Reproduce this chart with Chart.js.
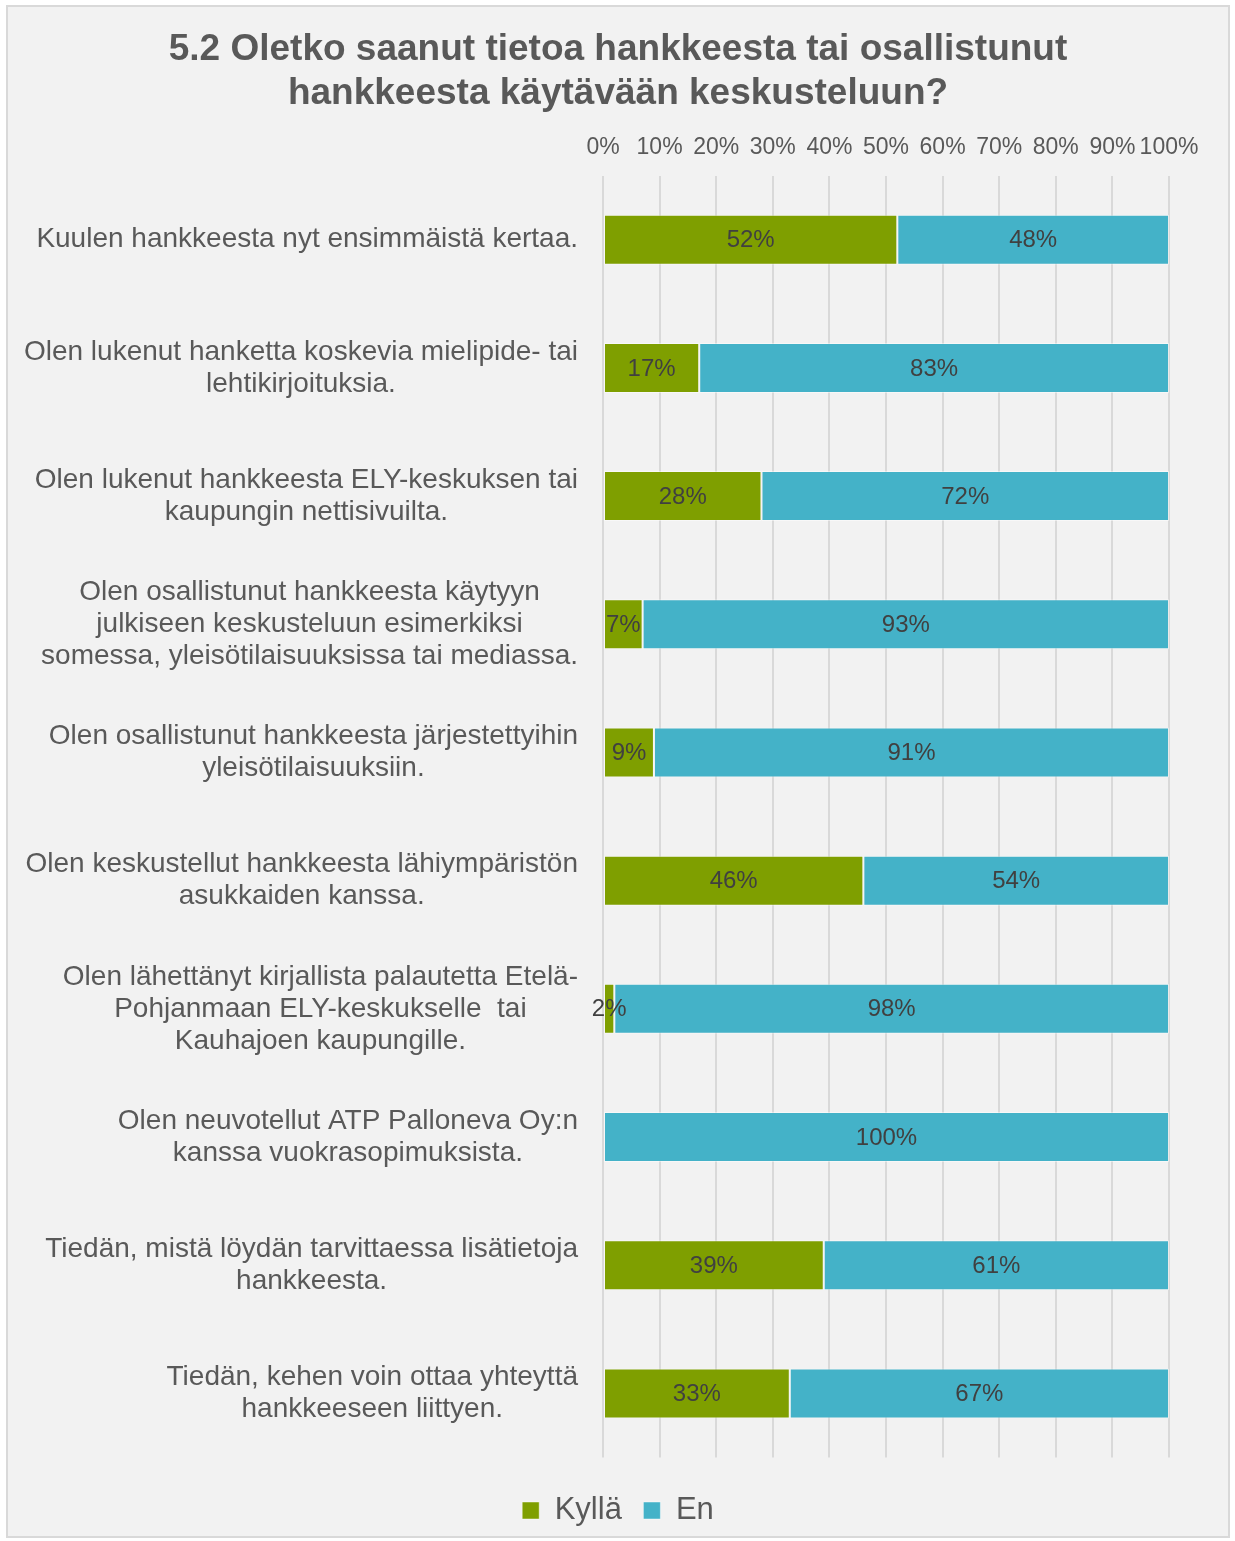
<!DOCTYPE html>
<html>
<head>
<meta charset="utf-8">
<script src="https://cdn.jsdelivr.net/npm/chart.js@4/dist/chart.umd.min.js"></script>
<style>
  body { margin: 0; background: #ffffff; }
  #frame {
    position: absolute; left: 6px; top: 5px;
    width: 1220px; height: 1529px;
    border: 2px solid #d9d9d9; background: #f2f2f2;
  }
</style>
</head>
<body>
<div id="frame"><canvas id="chart" width="1220" height="1529"></canvas></div>
<script>
// Categories (each line as shown in the picture)
const categories = [
    ['Kuulen hankkeesta nyt ensimmäistä kertaa.'],
    ['Olen lukenut hanketta koskevia mielipide- tai', 'lehtikirjoituksia.'],
    ['Olen lukenut hankkeesta ELY-keskuksen tai', 'kaupungin nettisivuilta.'],
    ['Olen osallistunut hankkeesta käytyyn', 'julkiseen keskusteluun esimerkiksi', 'somessa, yleisötilaisuuksissa tai mediassa.'],
    ['Olen osallistunut hankkeesta järjestettyihin', 'yleisötilaisuuksiin.'],
    ['Olen keskustellut hankkeesta lähiympäristön', 'asukkaiden kanssa.'],
    ['Olen lähettänyt kirjallista palautetta Etelä-', 'Pohjanmaan ELY-keskukselle  tai', 'Kauhajoen kaupungille.'],
    ['Olen neuvotellut ATP Palloneva Oy:n', 'kanssa vuokrasopimuksista.'],
    ['Tiedän, mistä löydän tarvittaessa lisätietoja', 'hankkeesta.'],
    ['Tiedän, kehen voin ottaa yhteyttä', 'hankkeeseen liittyen.']
];

// Series values (%)
const kyllaValues = [52, 17, 28, 7, 9, 46, 2, 0, 39, 33];
const enValues = [48, 83, 72, 93, 91, 54, 98, 100, 61, 67];

// Axis ticks
const xTicks = [0, 10, 20, 30, 40, 50, 60, 70, 80, 90, 100];

const textColor = '#595959';
Chart.defaults.font.family = '"Liberation Sans", Arial, sans-serif';
Chart.defaults.color = textColor;

// Draws value labels in the middle of each bar segment
const valueLabels = {
    id: 'valueLabels',
    afterDatasetsDraw(chart) {
        const ctx = chart.ctx;
        ctx.save();
        ctx.font = '24px "Liberation Sans", Arial, sans-serif';
        ctx.fillStyle = '#404040';
        ctx.textAlign = 'center';
        ctx.textBaseline = 'middle';
        chart.data.datasets.forEach((ds, i) => {
            const meta = chart.getDatasetMeta(i);
            meta.data.forEach((bar, j) => {
                const v = ds.data[j];
                if (!v) return;
                const p = bar.getCenterPoint();
                ctx.fillText(v + '%', p.x, p.y + 1);
            });
        });
        ctx.restore();
    }
};

// Category labels: block right aligned, lines centred within the block
const categoryLabels = {
    id: 'categoryLabels',
    afterDraw(chart) {
        const ctx = chart.ctx;
        const yScale = chart.scales.y;
        const rightEdge = 570;
        const lineHeight = 32;
        ctx.save();
        ctx.font = '28px "Liberation Sans", Arial, sans-serif';
        ctx.fillStyle = textColor;
        ctx.textAlign = 'center';
        ctx.textBaseline = 'middle';
        categories.forEach((lines, i) => {
            const maxW = Math.max(...lines.map(l => ctx.measureText(l).width));
            const cx = rightEdge - maxW / 2;
            const cy = yScale.getPixelForValue(i);
            const y0 = cy - (lines.length - 1) * lineHeight / 2;
            lines.forEach((l, k) => ctx.fillText(l, cx, y0 + k * lineHeight));
        });
        ctx.restore();
    }
};

const ctx = document.getElementById('chart').getContext('2d');
new Chart(ctx, {
    type: 'bar',
    data: {
        labels: categories.map(c => c.join(' ')),
        datasets: [
            {
                label: 'Kyllä',
                data: kyllaValues,
                backgroundColor: '#7f9f00',
                borderColor: 'rgba(255,255,255,0.45)',
                borderWidth: 1,
                borderSkipped: false,
                barPercentage: 0.39,
                categoryPercentage: 1.0
            },
            {
                label: 'En',
                data: enValues,
                backgroundColor: '#44b2c8',
                borderColor: 'rgba(255,255,255,0.45)',
                borderWidth: 1,
                borderSkipped: false,
                barPercentage: 0.39,
                categoryPercentage: 1.0
            }
        ]
    },
    options: {
        indexAxis: 'y',
        responsive: false,
        animation: false,
        layout: { padding: 0 },
        scales: {
            x: {
                position: 'top',
                stacked: true,
                min: 0,
                max: 100,
                afterBuildTicks: scale => { scale.ticks = xTicks.map(v => ({ value: v })); },
                ticks: {
                    padding: 14,
                    autoSkip: false,
                    maxRotation: 0,
                    minRotation: 0,
                    font: { size: 23 },
                    color: textColor,
                    callback: v => v + '%'
                },
                grid: { color: '#d9d9d9', lineWidth: 2, drawTicks: false },
                border: { display: false }
            },
            x2: {
                type: 'linear',
                position: 'bottom',
                display: true,
                grid: { display: false },
                ticks: { display: false },
                border: { display: false },
                afterFit: scale => { scale.height = 16; }
            },
            y: {
                stacked: true,
                ticks: { display: false },
                grid: { display: false },
                border: { display: false },
                afterFit: scale => { scale.width = 595; }
            },
            y2: {
                type: 'linear',
                position: 'right',
                display: true,
                grid: { display: false },
                ticks: { display: false },
                border: { display: false },
                afterFit: scale => { scale.width = 59; }
            }
        },
        plugins: {
            title: {
                display: true,
                text: ['5.2 Oletko saanut tietoa hankkeesta tai osallistunut', 'hankkeesta käytävään keskusteluun?'],
                color: textColor,
                font: { size: 37, weight: 'bold', lineHeight: 1.19 },
                padding: { top: 21, bottom: 4 }
            },
            legend: {
                position: 'bottom',
                labels: {
                    boxWidth: 17,
                    boxHeight: 17,
                    padding: 21.5,
                    color: textColor,
                    font: { size: 31 }
                }
            },
            tooltip: { enabled: false }
        }
    },
    plugins: [valueLabels, categoryLabels]
});
</script>
</body>
</html>
